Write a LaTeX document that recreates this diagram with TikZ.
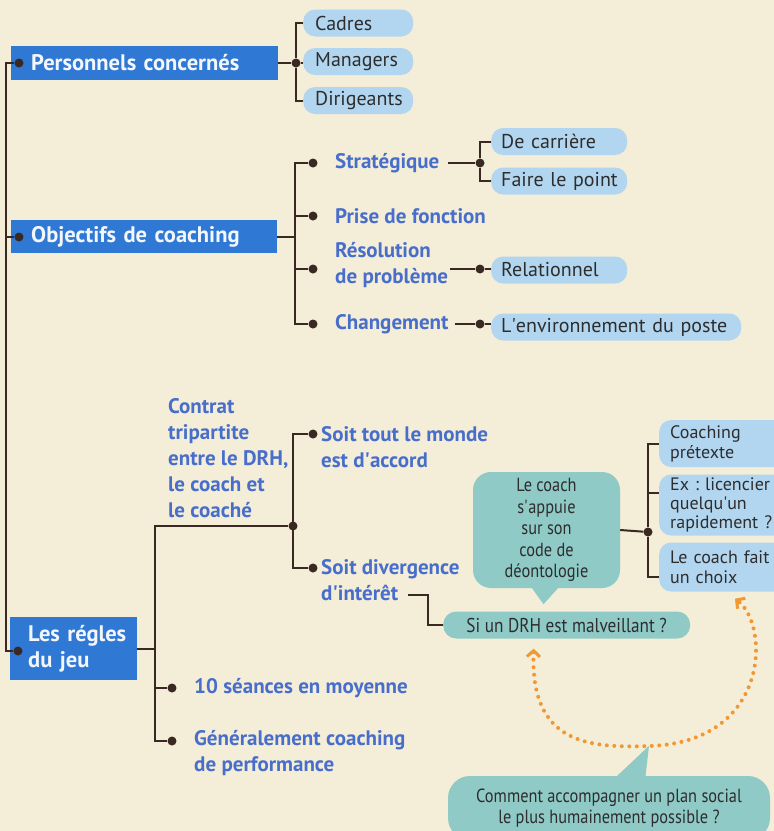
\documentclass[tikz,border=0pt]{standalone}
\usepackage{fontspec}
\setmainfont{PT Sans}
\newfontfamily\condfont[FakeStretch=0.86]{PT Sans}
\usetikzlibrary{positioning,arrows.meta,calc}
\definecolor{paper}{RGB}{244,237,215}
\definecolor{linebrown}{RGB}{58,40,34}
\definecolor{boxblue}{RGB}{47,121,213}
\definecolor{labelblue}{RGB}{72,110,204}
\definecolor{pillblue}{RGB}{178,214,240}
\definecolor{tealfill}{RGB}{143,202,198}
\definecolor{darktext}{RGB}{45,45,45}
\definecolor{dotorange}{RGB}{242,152,50}
\newcommand{\ap}{\textquotesingle}
\hyphenpenalty=10000
\exhyphenpenalty=10000
\tikzset{
	x=1pt, y=-1pt,
	branch/.style={draw=linebrown, line width=2pt},
	knot/.style={circle, fill=linebrown, inner sep=0pt, minimum size=9pt},
	titlebox/.style={fill=boxblue, text=white!94!boxblue, anchor=west, inner xsep=20pt, inner ysep=0pt,
		align=left, font=\bfseries\fontsize{22.5}{26}\selectfont},
	topic/.style={text=labelblue, anchor=west, align=left, inner sep=2pt,
		font=\bfseries\fontsize{21}{26}\selectfont},
	pill/.style={fill=pillblue, text=darktext, rounded corners=12pt, anchor=west,
		inner xsep=10pt, inner ysep=0pt, align=left, minimum height=27pt,
		font=\fontsize{20}{21}\selectfont},
	sidepill/.style={pill, inner xsep=11pt, text width=124pt, font=\fontsize{18}{20}\selectfont},
	bubble/.style={fill=tealfill, text=darktext, rounded corners=18pt, align=center,
		inner sep=0pt, font=\condfont\fontsize{19}{21.5}\selectfont},
	dotarrow/.style={draw=dotorange, line width=4pt, line cap=round, dash pattern=on 0pt off 7.5pt,
		{Straight Barb[length=6pt,width=13pt,line width=3pt]}-{Straight Barb[length=6pt,width=13pt,line width=3pt]}},
}
\begin{document}
\frenchspacing
\begin{tikzpicture}
	\useasboundingbox (0,0) rectangle (774,831);
	\clip (0,0) rectangle (774,831);
	\fill[paper] (0,0) rectangle (774,831);

	% main headings
	\node[titlebox, minimum width=267pt, minimum height=34pt, text width=227pt] (pers) at (11,63) {Personnels concernés};
	\node[titlebox, minimum width=266pt, minimum height=33pt, text width=226pt] (obj) at (11,236.5) {Objectifs de coaching};
	\node[titlebox, inner xsep=18pt, minimum width=127pt, minimum height=63pt, text width=91pt] (regles) at (10,648.5)
		{\mbox{Les régles}\\\mbox{du jeu}};
	\node[knot] (k1) at (19,63) {};
	\node[knot] (k2) at (19,237) {};
	\node[knot] (k3) at (18,651) {};
	\draw[branch] (k1) -- ++(-13,0) |- (k3);
	\draw[branch] (k2) -- ++(-13,0);

	% personnels
	\node[pill, inner xsep=12pt, text width=86pt] (cadres) at (303,23) {Cadres};
	\node[pill, inner xsep=12pt, text width=86pt] (managers) at (303,61.5) {Managers};
	\node[pill, inner xsep=12pt, text width=86pt] (dirig) at (303,100.5) {Dirigeants};
	\node[knot] (kp) at (296,63) {};
	\draw[branch] (pers.east) -- (kp);
	\draw[branch] (cadres.west) -| (kp) |- (dirig.west);
	\draw[branch] (kp) -- (kp -| managers.west);

	% objectifs
	\node[topic] (strat) at (333,163) {Stratégique};
	\node[topic] (prise) at (333,216) {Prise de fonction};
	\node[topic] (resol) at (333,265) {Résolution\\de problème};
	\node[topic] (chgt) at (333,324) {Changement};
	\node[knot] (ks) at (313,163) {};
	\node[knot] (kf) at (313,216) {};
	\node[knot] (kr) at (313,269) {};
	\node[knot] (kc) at (313,324) {};
	\draw[branch] (obj.east) -- ++(18,0);
	\draw[branch] (ks) -- ++(-18,0) |- (kc);
	\draw[branch] (kf) -- ++(-18,0);
	\draw[branch] (kr) -- ++(-18,0);

	\node[pill, text width=116pt] (carriere) at (491,141.5) {De carrière};
	\node[pill, text width=116pt] (point) at (491,181) {\mbox{Faire le point}};
	\node[pill, text width=116pt] (relat) at (491,270) {Relationnel};
	\node[pill, text width=230pt] (env) at (491,327) {\mbox{L\ap environnement du poste}};
	\node[knot] (ks2) at (480,163) {};
	\node[knot] (kr2) at (480,269) {};
	\node[knot] (kc2) at (480,324) {};
	\draw[branch] ([xshift=6pt]strat.east) -- (ks2);
	\draw[branch] (carriere.west) -| (ks2) |- (point.west);
	\draw[branch] (kr2 -| resol.east) -- (kr2) -- (kr2 -| relat.west);
	\draw[branch] ([xshift=4pt]chgt.east) -- (kc2) -- (kc2 -| env.west);

	% regles du jeu
	\node[topic] (contrat) at (166,458) {Contrat\\tripartite\\entre le DRH,\\le coach et\\le coaché};
	\node[topic] (accord) at (319,447.5) {Soit tout le monde\\est d\ap accord};
	\node[topic] (diverg) at (319,580) {Soit divergence\\d\ap intérêt};
	\node[topic] (seances) at (192,688) {10 séances en moyenne};
	\node[topic] (perf) at (192,753.5) {Généralement coaching\\de performance};
	\node[knot] (kt) at (293,526) {};
	\node[knot] (ka) at (313,434) {};
	\node[knot] (kd) at (313,568) {};
	\node[knot] (k10) at (172,688) {};
	\node[knot] (kg) at (172,741) {};
	\draw[branch] (regles.east) -- ++(18,0);
	\draw[branch] (kt) -- ++(-138,0) |- (kg);
	\draw[branch] (k10) -- ++(-17,0);
	\draw[branch] (ka) -- ++(-20,0) |- (kd);

	% divergence
	\coordinate (divend) at (408,595);
	\node[bubble, rounded corners=13pt, minimum width=247pt, minimum height=27pt, anchor=west,
		font=\condfont\fontsize{20}{22}\selectfont] (drh) at (443,625) {Si un DRH est malveillant ?};
	\draw[branch] (divend) -| ([xshift=-15pt]drh.west) -- (drh.west);

	\node[bubble, minimum width=147pt, minimum height=116pt] (deonto) at (546.5,530) {Le coach\\s\ap appuie\\sur son\\code de\\déontologie};
	\fill[tealfill] ($(deonto.south)+(-18,-5)$) -- ($(deonto.south)+(16,-5)$) -- ($(deonto.south)+(-3,16)$) -- cycle;

	\node[sidepill, minimum height=47pt] (pretexte) at (659,443.5) {Coaching\\prétexte};
	\node[sidepill, minimum height=61pt, font=\fontsize{18}{19}\selectfont] (licencier) at (659,505) {Ex : licencier\\quelqu\ap un\\rapidement ?};
	\node[sidepill, minimum height=49pt] (choix) at (659,567) {Le coach fait\\un choix};
	\node[knot] (ke) at (648,532) {};
	\draw[branch] (deonto.east) -- (ke);
	\draw[branch] (pretexte.west) -| (ke) |- ([yshift=-10pt]choix.west);
	\draw[branch] (ke) |- ([yshift=12pt]licencier.west);

	% plan social
	\node[bubble, rounded corners=22pt, minimum width=322pt, minimum height=64pt] (plan) at (609,808) {Comment accompagner un plan social\\le plus humainement possible ?};
	\fill[tealfill] ($(plan.north)+(3,5)$) -- ($(plan.north)+(36,5)$) -- ($(plan.north)+(40,-30)$) -- cycle;

	\coordinate (arrA) at ([xshift=-33pt,yshift=-10pt]drh.south);
	\coordinate (arrB) at ([xshift=76pt,yshift=-7pt]choix.south west);
	\draw[dotarrow] (arrA) .. controls (530,745) and (590,748) .. (650,746)
		.. controls (770,742) and (770,625) .. (arrB);
\end{tikzpicture}
\end{document}
